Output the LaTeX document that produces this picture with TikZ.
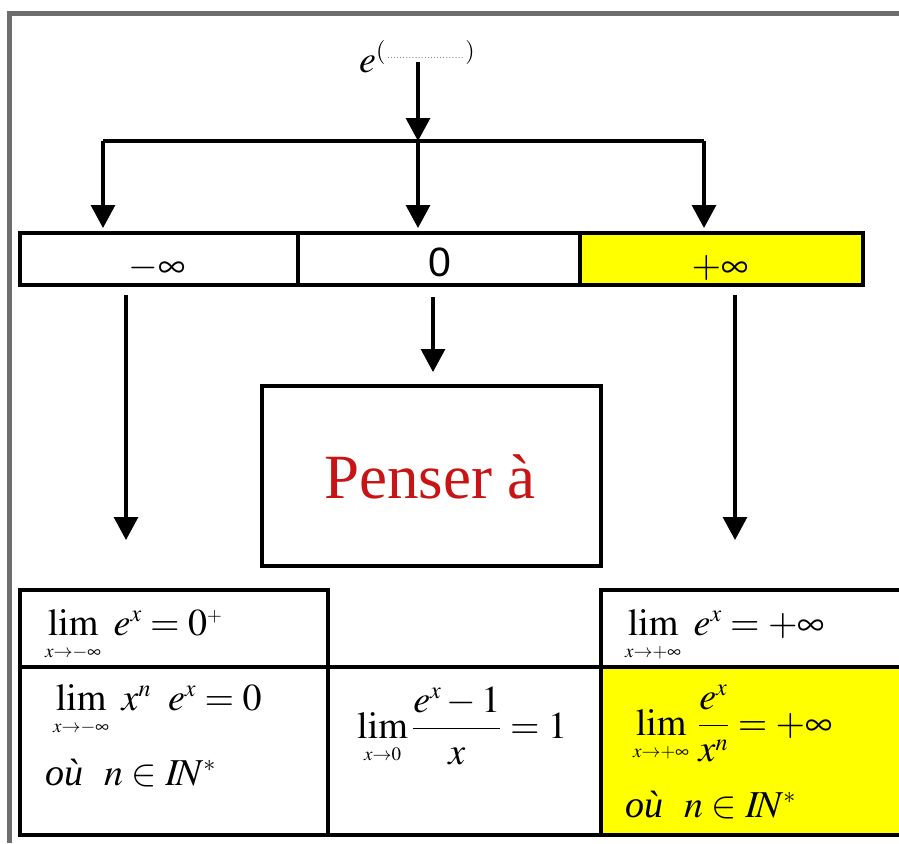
\documentclass[tikz,border=0pt]{standalone}
\usepackage{mathptmx}
\usepackage[no-math]{fontspec}
\setmainfont{Liberation Serif}
\newfontfamily\arialf{Liberation Sans}
\usetikzlibrary{arrows.meta}
\DeclareMathSizes{38}{38}{24}{19}
\definecolor{framegray}{RGB}{110,110,110}
\definecolor{hl}{RGB}{255,255,0}
\definecolor{pensred}{RGB}{200,20,20}
\newcommand{\bigf}{\fontsize{38}{42}\selectfont}
\tikzset{
  arr/.style={line width=3.2pt, -{Triangle[length=23pt,width=24pt]}},
  plainline/.style={line width=3.2pt},
  cell/.style={draw, line width=3.6pt, inner sep=0pt, outer sep=0pt},
  mtext/.style={anchor=base west, inner sep=0pt, font=\bigf},
  ctext/.style={anchor=base, inner sep=0pt, font=\bigf}
}
\begin{document}
\begin{tikzpicture}[x=1pt,y=-1pt]
\useasboundingbox (0,0) rectangle (899,843);
\clip (0,0) rectangle (899,843);
% outer frame
\draw[framegray, line width=5pt] (9.5,11) -- (9.5,843);
\draw[framegray, line width=5pt] (7,13.5) -- (899,13.5);

% top label
\node[mtext] (top) at (359,72) {$e^{(\makebox[80pt]{\fontsize{7}{7}\selectfont\dotfill})}$};
\coordinate (j) at (418,141);
\coordinate (jl) at (103,141);
\coordinate (jr) at (704,141);
\coordinate (a0) at (418,62);

% first row boxes
\node[cell, minimum width=278pt, minimum height=52pt] (bL) at (159,259) {};
\node[cell, minimum width=282pt, minimum height=52pt] (bM) at (439,259) {};
\node[cell, fill=hl, minimum width=283pt, minimum height=52pt] (bR) at (721.5,259) {};
\node[ctext] (tL) at (157,277) {$-\infty$};
\node[ctext, font=\arialf\fontsize{41}{44}\selectfont] (tM) at (440,276) {0};
\node[ctext] (tR) at (720,277) {$+\infty$};

% Penser box
\node[cell, minimum width=339pt, minimum height=180pt] (pen) at (431.5,476) {};
\node[anchor=base, inner sep=0pt, text=pensred, font=\fontsize{63}{66}\selectfont] (pentxt) at (430,498) {Penser à};

% bottom table
\node[cell, minimum width=308pt, minimum height=77pt] (cL1) at (174,628.5) {};
\node[cell, minimum width=308pt, minimum height=168pt] (cL2) at (174,751) {};
\node[cell, minimum width=273pt, minimum height=168pt] (cM2) at (464.5,751) {};
\node[cell, minimum width=304pt, minimum height=77pt] (cR1) at (753,628.5) {};
\node[cell, fill=hl, minimum width=304pt, minimum height=168pt] (cR2) at (753,751) {};

% formulas
\node[mtext] (f1) at (45,635) {$\lim\limits_{\scriptscriptstyle x\to-\infty}\; e^{x}=0^{\scriptscriptstyle +}$};
\node[mtext] (f2) at (625,635) {$\lim\limits_{\scriptscriptstyle x\to+\infty}\; e^{x}=+\infty$};
\node[mtext] (f3) at (53,710) {$\lim\limits_{\scriptscriptstyle x\to-\infty}\; x^{n}\;\; e^{x}=0$};
\node[mtext] (f3b) at (45,785) {\itshape où\hspace{0.55em}\upshape$n\in I\!N^{*}$};
\node[mtext] (f4) at (357,738) {$\displaystyle\lim\limits_{\scriptscriptstyle x\to0}\frac{e^{x}-1}{x}=1$};
\node[mtext] (f5) at (633,735) {$\displaystyle\lim\limits_{\scriptscriptstyle x\to+\infty}\,\frac{e^{x}}{x^{n}}=+\infty$};
\node[mtext] (f5b) at (625,817) {\itshape où\hspace{0.55em}\upshape$n\in I\!N^{*}$};

% connectors
\draw[arr] (a0) -- (j);
\draw[plainline] (jl) -- (jr);
\draw[arr, shorten >=5pt] (jl) -- (jl |- bL.north);
\draw[arr, shorten >=5pt] (j) -- (j |- bM.north);
\draw[arr, shorten >=5pt] (jr) -- (jr |- bR.north);
\coordinate (dl) at (126,0);
\coordinate (dm) at (433,0);
\coordinate (dr) at (735,0);
\draw[arr, shorten <=10pt, shorten >=50pt] (bL.south -| dl) -- (cL1.north -| dl);
\draw[arr, shorten <=12pt, shorten >=14pt] (bM.south -| dm) -- (pen.north -| dm);
\draw[arr, shorten <=10pt, shorten >=50pt] (bR.south -| dr) -- (cR1.north -| dr);
\end{tikzpicture}
\end{document}
